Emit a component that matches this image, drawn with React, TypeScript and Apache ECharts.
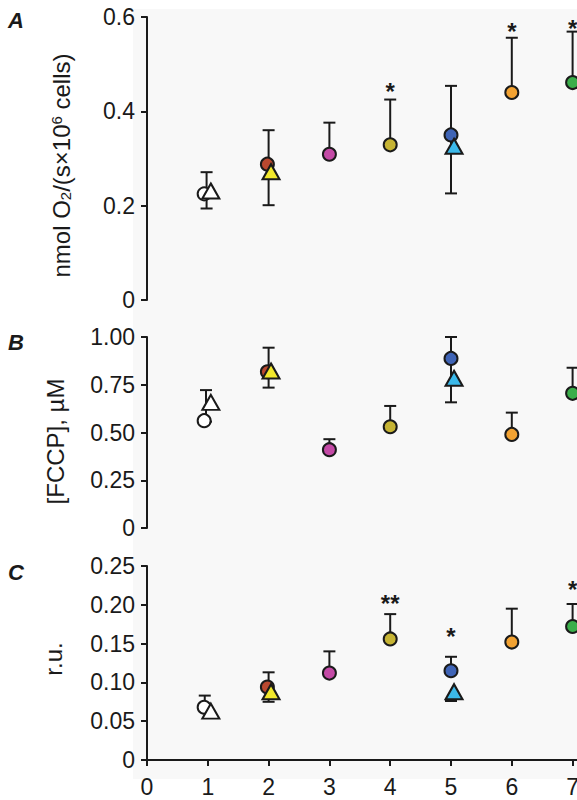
import React, { useEffect, useRef } from "react";
import * as echarts from "echarts";

// ---------- data ----------
const CATEGORIES = [1, 2, 3, 4, 5, 6, 7];
const CIRCLE_COLORS = ["#ffffff", "#b9482f", "#c44aa6", "#c6b434", "#3f64b6", "#f2a232", "#3bae4a"];
const TRIANGLE_CATEGORIES = [1, 2, 5];
const TRIANGLE_COLORS = ["#ffffff", "#f2e82c", "#3bb9ea"];

const A_CIRCLES = [0.225, 0.288, 0.309, 0.329, 0.35, 0.44, 0.461];
const A_TRIANGLES = [0.231, 0.272, 0.326];
// [x, low, high, lowCap, highCap]
const A_ERRORS = [
  [0.98, 0.194, 0.271, 1, 1],
  [2, 0.201, 0.36, 1, 1],
  [3, 0.309, 0.376, 0, 1],
  [4, 0.329, 0.425, 0, 1],
  [5, 0.226, 0.454, 1, 1],
  [6, 0.44, 0.556, 0, 1],
  [7, 0.461, 0.569, 0, 1],
];
const A_STARS: [number, number, string][] = [
  [4, 0.454, "*"],
  [6, 0.583, "*"],
  [7, 0.589, "*"],
];

const B_CIRCLES = [0.562, 0.818, 0.41, 0.53, 0.888, 0.49, 0.705];
const B_TRIANGLES = [0.658, 0.822, 0.784];
const B_ERRORS = [
  [0.97, 0.557, 0.722, 1, 1],
  [2, 0.735, 0.944, 1, 1],
  [3, 0.41, 0.465, 0, 1],
  [4, 0.53, 0.639, 0, 1],
  [5, 0.658, 1.0, 1, 1],
  [6, 0.49, 0.604, 0, 1],
  [7, 0.705, 0.839, 0, 1],
];
const B_STARS: [number, number, string][] = [];

const C_CIRCLES = [0.068, 0.094, 0.112, 0.156, 0.115, 0.152, 0.172];
const C_TRIANGLES = [0.063, 0.088, 0.088];
const C_ERRORS = [
  [0.95, 0.068, 0.083, 0, 1],
  [2, 0.075, 0.113, 1, 1],
  [3, 0.112, 0.14, 0, 1],
  [4, 0.156, 0.188, 0, 1],
  [5, 0.115, 0.133, 0, 1],
  [5, 0.076, 0.088, 1, 0],
  [6, 0.152, 0.195, 0, 1],
  [7, 0.172, 0.201, 0, 1],
];
const C_STARS: [number, number, string][] = [
  [4, 0.21, "**"],
  [5, 0.1675, "*"],
  [7, 0.227, "*"],
];

const X_TICKS = [0, 1, 2, 3, 4, 5, 6, 7];
const A_Y = { min: 0, max: 0.6, interval: 0.2, digits: 1 };
const B_Y = { min: 0, max: 1.0, interval: 0.25, digits: 2 };
const C_Y = { min: 0, max: 0.25, interval: 0.05, digits: 2 };

// ---------- styling ----------
const FONT = '"Liberation Sans", Arial, Helvetica, sans-serif';
const INK = "#1a1a1a";
const CIRCLE_DODGE: Record<number, number> = { 1: -0.06, 2: -0.02 };
const TRI_DODGE: Record<number, number> = { 1: 0.05, 2: 0.04, 5: 0.05 };
const X_MAX = 7.5;
const CHART_W = 620;

function panelSeries(idx: number, circles: number[], triangles: number[], errors: number[][], stars: [number, number, string][]) {
  const errSeries = {
    type: "custom",
    xAxisIndex: idx,
    yAxisIndex: idx,
    z: 2,
    silent: true,
    encode: { x: 0, y: [1, 2] },
    data: errors,
    renderItem: (params: any, api: any) => {
      const x = api.value(0);
      const lo = api.coord([x, api.value(1)]);
      const hi = api.coord([x, api.value(2)]);
      const cap = 6;
      const style = { stroke: INK, lineWidth: 2 };
      const children: any[] = [
        { type: "line", shape: { x1: lo[0], y1: lo[1], x2: hi[0], y2: hi[1] }, style },
      ];
      if (api.value(3)) children.push({ type: "line", shape: { x1: lo[0] - cap, y1: lo[1], x2: lo[0] + cap, y2: lo[1] }, style });
      if (api.value(4)) children.push({ type: "line", shape: { x1: hi[0] - cap, y1: hi[1], x2: hi[0] + cap, y2: hi[1] }, style });
      return { type: "group", children };
    },
  };
  const circleSeries = {
    type: "scatter",
    xAxisIndex: idx,
    yAxisIndex: idx,
    z: 3,
    symbol: "circle",
    symbolSize: 13,
    itemStyle: { borderColor: INK, borderWidth: 2, opacity: 1 },
    data: circles.map((v, i) => ({
      value: [CATEGORIES[i] + (CIRCLE_DODGE[CATEGORIES[i]] || 0), v],
      itemStyle: { color: CIRCLE_COLORS[i] },
    })),
  };
  const triSeries = {
    type: "scatter",
    xAxisIndex: idx,
    yAxisIndex: idx,
    z: 4,
    symbol: "triangle",
    symbolSize: [17, 15],
    itemStyle: { borderColor: INK, borderWidth: 2, opacity: 1 },
    data: triangles.map((v, i) => ({
      value: [TRIANGLE_CATEGORIES[i] + (TRI_DODGE[TRIANGLE_CATEGORIES[i]] || 0), v],
      itemStyle: { color: TRIANGLE_COLORS[i] },
    })),
  };
  const starSeries = {
    type: "custom",
    xAxisIndex: idx,
    yAxisIndex: idx,
    z: 5,
    silent: true,
    data: stars.map((s) => [s[0], s[1], s[2]]),
    renderItem: (params: any, api: any) => {
      const p = api.coord([api.value(0), api.value(1)]);
      return {
        type: "text",
        x: p[0],
        y: p[1] + 6,
        style: {
          text: stars[params.dataIndex][2],
          fill: INK,
          fontSize: 24,
          fontWeight: "bold",
          fontFamily: FONT,
          align: "center",
          verticalAlign: "middle",
        },
      };
    },
  };
  return [errSeries, circleSeries, triSeries, starSeries];
}

function yAxisFor(idx: number, cfg: any, name: string, nameGap: number, shift: number, rich?: any) {
  return {
    type: "value",
    gridIndex: idx,
    min: cfg.min,
    max: cfg.max,
    interval: cfg.interval,
    axisLine: { show: true, lineStyle: { color: INK, width: 2 } },
    axisTick: { show: true, length: 6, lineStyle: { color: INK, width: 2 } },
    splitLine: { show: false },
    axisLabel: {
      margin: 12,
      color: INK,
      fontSize: 23,
      fontFamily: FONT,
      formatter: (v: number) => (v === 0 ? "0" : v.toFixed(cfg.digits)),
    },
    name,
    nameLocation: "middle",
    nameGap,
    nameTextStyle: {
      color: INK,
      fontSize: 24,
      fontFamily: FONT,
      rich,
      padding: [0, shift > 0 ? shift * 2 : 0, 0, shift < 0 ? -shift * 2 : 0],
    },
  };
}

function xAxisFor(idx: number, visible: boolean) {
  return {
    type: "value",
    gridIndex: idx,
    min: 0,
    max: X_MAX,
    interval: 1,
    show: visible,
    axisLine: { show: visible, onZero: false, lineStyle: { color: INK, width: 2 } },
    axisTick: {
      show: visible,
      length: 6,
      lineStyle: { color: INK, width: 2 },
      customValues: X_TICKS,
    },
    splitLine: { show: false },
    axisLabel: {
      show: visible,
      margin: 15,
      color: INK,
      fontSize: 23,
      fontFamily: FONT,
      customValues: X_TICKS,
      formatter: (v: number) => String(v),
    },
  };
}

export default function App() {
  const ref = useRef<HTMLDivElement>(null);
  useEffect(() => {
    if (!ref.current) return;
    const chart = echarts.init(ref.current, null, { renderer: "svg" });
    const gridLeft = 147;
    const gridWidth = X_MAX * 60.8;
    const subRich = {
      t: { fontSize: 24, fontFamily: FONT, color: INK },
      sub: { fontSize: 15, fontFamily: FONT, color: INK, verticalAlign: "bottom" },
      sup: { fontSize: 15, fontFamily: FONT, color: INK, verticalAlign: "top" },
    };
    chart.setOption({
      animation: false,
      backgroundColor: "#ffffff",
      graphic: [
        {
          type: "rect",
          silent: true,
          z: -10,
          shape: { x: 133, y: 9, width: 480, height: 770 },
          style: { fill: "#f8f8f8" },
        },
        { type: "text", left: 8, top: 9, style: { text: "A", font: `italic bold 22px ${FONT}`, fill: INK } },
        { type: "text", left: 8, top: 331, style: { text: "B", font: `italic bold 22px ${FONT}`, fill: INK } },
        { type: "text", left: 8, top: 561, style: { text: "C", font: `italic bold 22px ${FONT}`, fill: INK } },
      ],
      grid: [
        { left: gridLeft, top: 17, width: gridWidth, height: 283 },
        { left: gridLeft, top: 337, width: gridWidth, height: 191 },
        { left: gridLeft, top: 566, width: gridWidth, height: 194 },
      ],
      xAxis: [xAxisFor(0, false), xAxisFor(1, false), xAxisFor(2, true)],
      yAxis: [
        yAxisFor(0, A_Y, "{t|nmol O}{sub|2}{t|/(s×10}{sup|6}{t| cells)}", 74, 7, subRich),
        yAxisFor(1, B_Y, "[FCCP], µM", 80, 9),
        yAxisFor(2, C_Y, "r.u.", 82, -4),
      ],
      series: [
        ...panelSeries(0, A_CIRCLES, A_TRIANGLES, A_ERRORS, A_STARS),
        ...panelSeries(1, B_CIRCLES, B_TRIANGLES, B_ERRORS, B_STARS),
        ...panelSeries(2, C_CIRCLES, C_TRIANGLES, C_ERRORS, C_STARS),
      ],
    });
    return () => chart.dispose();
  }, []);
  return (
    <div style={{ position: "absolute", left: 0, top: 0, width: 577, height: 800, overflow: "hidden" }}>
      <div ref={ref} style={{ width: CHART_W, height: 800 }} />
    </div>
  );
}
